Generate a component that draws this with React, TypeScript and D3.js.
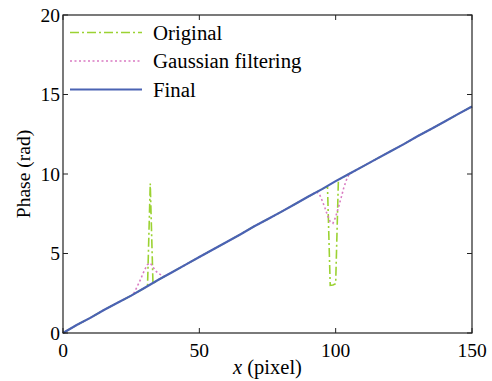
import React, { useEffect, useRef } from 'react';
import * as d3 from 'd3';

// final (unwrapped) phase, sampled every 5 pixels
const finalX = [0, 5, 10, 15, 20, 25, 30, 35, 40, 45, 50, 55, 60, 65, 70, 75, 80, 85, 90, 95, 100, 105, 110, 115, 120, 125, 130, 135, 140, 145, 150];
const finalY = [0, 0.5, 0.95, 1.45, 1.9, 2.35, 2.85, 3.35, 3.82, 4.3, 4.78, 5.25, 5.72, 6.2, 6.7, 7.15, 7.62, 8.1, 8.58, 9.05, 9.55, 10.02, 10.48, 10.95, 11.42, 11.88, 12.37, 12.83, 13.3, 13.78, 14.25];

// original data errors (spike and dip)
const spikeX = [31, 32, 33];
const spikeY = [2.95, 9.4, 3.1];
const dipX = [97, 98, 99, 100, 101];
const dipY = [9.22, 3.0, 3.02, 3.1, 9.62];

// gaussian filtered values around the errors
const gaussAX = [26, 27, 28, 29, 30, 31, 32, 33, 34, 35, 36, 37];
const gaussAY = [2.5, 2.85, 3.2, 3.6, 4.0, 4.3, 4.4, 4.15, 3.9, 3.75, 3.65, 3.55];
const gaussBX = [93, 94, 95, 96, 97, 98, 99, 100, 101, 102, 103, 104, 105];
const gaussBY = [8.88, 8.75, 8.35, 7.9, 7.4, 7.0, 6.9, 7.3, 7.9, 8.5, 9.15, 9.65, 10.0];

const xTicks = [0, 50, 100, 150];
const yTicks = [0, 5, 10, 15, 20];

const legendItems = ['Original', 'Gaussian filtering', 'Final'];
const colors = ['#9bd232', '#d97ac2', '#4a63b3'];
const dashes = ['9,3,2,3', '2,2.5', null];

type Pt = { x: number; y: number };

function withPatches(baseX: number[], baseY: number[], patches: [number[], number[]][]): Pt[] {
	let pts: Pt[] = baseX.map((x, i) => ({ x, y: baseY[i] }));
	patches.forEach(([px, py]) => {
		const lo = d3.min(px)!;
		const hi = d3.max(px)!;
		pts = pts.filter(p => p.x < lo || p.x > hi);
		px.forEach((x, i) => pts.push({ x, y: py[i] }));
	});
	return pts.sort((a, b) => a.x - b.x);
}

const width = 492;
const height = 381;
const margin = { top: 15, right: 20, bottom: 48, left: 63 };
const font = 'Liberation Serif, Times New Roman, DejaVu Serif, serif';

export default function App() {
	const ref = useRef<SVGSVGElement>(null);

	useEffect(() => {
		const svg = d3.select(ref.current);
		svg.selectAll('*').remove();

		const x0 = margin.left;
		const x1 = width - margin.right;
		const y0 = height - margin.bottom;
		const y1 = margin.top;

		const xScale = d3.scaleLinear().domain([0, 150]).range([x0, x1]);
		const yScale = d3.scaleLinear().domain([0, 20]).range([y0, y1]);

		const series = [
			withPatches(finalX, finalY, [[spikeX, spikeY], [dipX, dipY]]),
			withPatches(finalX, finalY, [[gaussAX, gaussAY], [gaussBX, gaussBY]]),
			withPatches(finalX, finalY, []),
		];

		const line = d3
			.line<Pt>()
			.x(d => xScale(d.x))
			.y(d => yScale(d.y));

		const g = svg.append('g');
		series.forEach((s, i) => {
			g.append('path')
				.attr('d', line(s))
				.attr('fill', 'none')
				.attr('stroke', colors[i])
				.attr('stroke-width', i === 2 ? 2.2 : 1.6)
				.attr('stroke-dasharray', dashes[i]);
		});

		// frame
		svg.append('rect')
			.attr('x', x0)
			.attr('y', y1)
			.attr('width', x1 - x0)
			.attr('height', y0 - y1)
			.attr('fill', 'none')
			.attr('stroke', '#222')
			.attr('stroke-width', 1.2);

		const tl = 5;
		xTicks.forEach(t => {
			const x = xScale(t);
			svg.append('line').attr('x1', x).attr('x2', x).attr('y1', y0).attr('y2', y0 - tl).attr('stroke', '#222');
			svg.append('line').attr('x1', x).attr('x2', x).attr('y1', y1).attr('y2', y1 + tl).attr('stroke', '#222');
			svg.append('text')
				.attr('x', x)
				.attr('y', y0 + 24)
				.attr('text-anchor', 'middle')
				.attr('font-family', font)
				.attr('font-size', 19.5)
				.text(t);
		});
		yTicks.forEach(t => {
			const y = yScale(t);
			svg.append('line').attr('x1', x0).attr('x2', x0 + tl).attr('y1', y).attr('y2', y).attr('stroke', '#222');
			svg.append('line').attr('x1', x1).attr('x2', x1 - tl).attr('y1', y).attr('y2', y).attr('stroke', '#222');
			svg.append('text')
				.attr('x', x0 - 3)
				.attr('y', y)
				.attr('dy', '0.35em')
				.attr('text-anchor', 'end')
				.attr('font-family', font)
				.attr('font-size', 19.5)
				.text(t);
		});

		// axis titles
		const xt = svg.append('text')
			.attr('x', (x0 + x1) / 2)
			.attr('y', 374)
			.attr('text-anchor', 'middle')
			.attr('font-family', font)
			.attr('font-size', 20.5);
		xt.append('tspan').attr('font-style', 'italic').text('x');
		xt.append('tspan').text(' (pixel)');

		svg.append('text')
			.attr('transform', `translate(30,${(y0 + y1) / 2}) rotate(-90)`)
			.attr('text-anchor', 'middle')
			.attr('font-family', font)
			.attr('font-size', 19.5)
			.text('Phase (rad)');

		// legend
		legendItems.forEach((name, i) => {
			const y = 32.5 + i * 28.5;
			svg.append('line')
				.attr('x1', 70)
				.attr('x2', 142)
				.attr('y1', y)
				.attr('y2', y)
				.attr('stroke', colors[i])
				.attr('stroke-width', i === 2 ? 2.2 : 1.6)
				.attr('stroke-dasharray', dashes[i]);
			svg.append('text')
				.attr('x', 153)
				.attr('y', y)
				.attr('dy', '0.35em')
				.attr('font-family', font)
				.attr('font-size', 20.8)
				.text(name);
		});
	}, []);

	return (
		<svg
			ref={ref}
			width={width}
			height={height}
			style={{ position: 'absolute', left: 0, top: 0, background: '#fff' }}
		/>
	);
}
